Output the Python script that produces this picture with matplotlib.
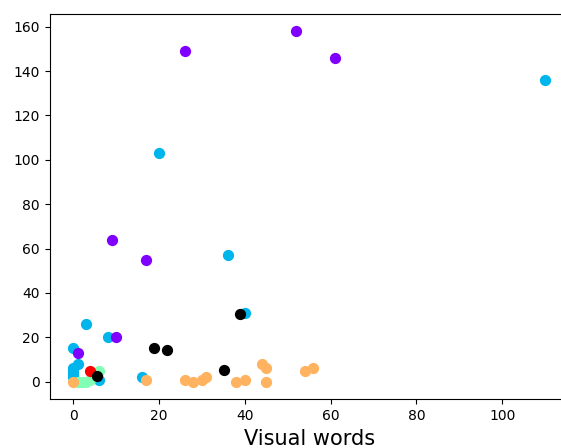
import matplotlib
matplotlib.use("Agg")
import matplotlib.pyplot as plt
import numpy as np

# Cluster points (visual words vs. second feature)
purple_x = [26, 52, 61, 9, 17, 10, 1]
purple_y = [149, 158, 146, 64, 55, 20, 13]

cyan_x = [110, 20, 36, 40, 3, 8, 0, 1, 0, 0, 0, 0, 0, 16, 6]
cyan_y = [136, 103, 57, 31, 26, 20, 15, 8, 6, 5, 4, 3, 2, 2, 1]

green_x = [6, 1, 2, 3, 4]
green_y = [5, 0, 0, 0, 1]

orange_x = [0, 17, 26, 28, 30, 31, 38, 40, 44, 45, 45, 54, 56]
orange_y = [0, 1, 1, 0, 1, 2, 0, 1, 8, 6, 0, 5, 6]

red_x = [4]
red_y = [5]

# centroids
black_x = [5.5, 18.9, 21.8, 38.9, 35.1]
black_y = [2.5, 15.2, 14.2, 30.6, 5.1]

colors = plt.cm.rainbow(np.linspace(0, 1, 5))

fig = plt.figure(figsize=(5.61, 4.48), dpi=100)
ax = fig.add_axes([0.0886, 0.1087, 0.925, 0.861])

ax.scatter(cyan_x, cyan_y, color=colors[1], s=50)
ax.scatter(green_x, green_y, color=colors[2], s=50)
ax.scatter(purple_x, purple_y, color=colors[0], s=50)
ax.scatter(orange_x, orange_y, color=colors[3], s=50)
ax.scatter(red_x, red_y, color=colors[4], s=50)
ax.scatter(black_x, black_y, color="black", s=50)

ax.spines["right"].set_visible(False)
ax.set_xlabel("Visual words", fontsize=15)

fig.savefig("out.png", dpi=100)
